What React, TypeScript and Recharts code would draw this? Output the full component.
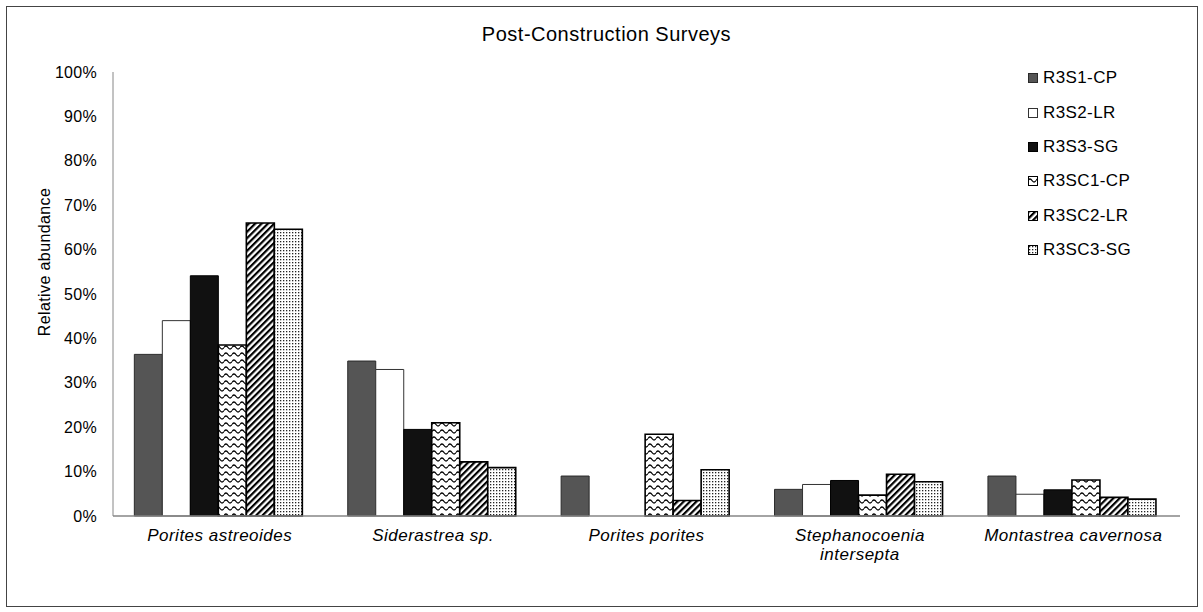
import { Bar, BarChart, XAxis, YAxis } from "recharts";

const categories = [
  "Porites astreoides",
  "Siderastrea sp.",
  "Porites porites",
  "Stephanocoenia intersepta",
  "Montastrea cavernosa",
];

const r3s1cp = [36.4, 34.9, 9.0, 6.0, 9.0];
const r3s2lr = [44.0, 33.0, 0, 7.1, 4.9];
const r3s3sg = [54.1, 19.5, 0, 8.0, 5.9];
const r3sc1cp = [38.5, 21.0, 18.4, 4.7, 8.1];
const r3sc2lr = [66.0, 12.2, 3.5, 9.4, 4.2];
const r3sc3sg = [64.6, 10.9, 10.4, 7.7, 3.8];

const yTicks = [0, 10, 20, 30, 40, 50, 60, 70, 80, 90, 100];

const SERIES = [
  { key: "R3S1-CP", fill: "#555555", stroke: "#2a2a2a", sw: 1 },
  { key: "R3S2-LR", fill: "#ffffff", stroke: "#333333", sw: 1 },
  { key: "R3S3-SG", fill: "#111111", stroke: "#000000", sw: 1 },
  { key: "R3SC1-CP", fill: "url(#wave)", stroke: "#000000", sw: 1.6 },
  { key: "R3SC2-LR", fill: "url(#diag)", stroke: "#000000", sw: 1.6 },
  { key: "R3SC3-SG", fill: "url(#dots)", stroke: "#000000", sw: 1.6 },
];

const data = categories.map((name, i) => ({
  name,
  "R3S1-CP": r3s1cp[i],
  "R3S2-LR": r3s2lr[i],
  "R3S3-SG": r3s3sg[i],
  "R3SC1-CP": r3sc1cp[i],
  "R3SC2-LR": r3sc2lr[i],
  "R3SC3-SG": r3sc3sg[i],
}));

const FONT = "'Liberation Sans', Arial, sans-serif";

function CategoryTick(props: any) {
  const { x, y, payload } = props;
  const label: string = payload.value;
  let lines = [label];
  if (label.length > 22) {
    const cut = label.lastIndexOf(" ");
    lines = [label.slice(0, cut), label.slice(cut + 1)];
  }
  return (
    <text
      x={x}
      y={y}
      textAnchor="middle"
      fontFamily={FONT}
      fontSize={17}
      letterSpacing={0.5}
      fontStyle="italic"
      fill="#000"
    >
      {lines.map((l, i) => (
        <tspan key={i} x={x} dy={i === 0 ? "0.71em" : 19}>
          {l}
        </tspan>
      ))}
    </text>
  );
}

function LegendBox() {
  return (
    <div
      style={{
        position: "absolute",
        left: 1028,
        top: 61,
        fontFamily: FONT,
        fontSize: 17,
        letterSpacing: 0.4,
        color: "#000",
      }}
    >
      {SERIES.map((s) => (
        <div
          key={s.key}
          style={{ height: 34.4, display: "flex", alignItems: "center" }}
        >
          <svg width={11} height={10} style={{ marginRight: 4 }}>
            <rect
              x={0.5}
              y={0.5}
              width={9}
              height={9}
              fill={s.fill}
              stroke={s.stroke}
              strokeWidth={1}
            />
          </svg>
          <span>{s.key}</span>
        </div>
      ))}
    </div>
  );
}

export default function App() {
  return (
    <div
      style={{
        position: "absolute",
        left: 0,
        top: 0,
        width: 1203,
        height: 612,
        background: "#fff",
      }}
    >
      <div
        style={{
          position: "absolute",
          left: 6,
          top: 6,
          width: 1190,
          height: 599,
          border: "1px solid #444",
        }}
      />
      <div
        style={{
          position: "absolute",
          top: 24,
          left: 0,
          width: 1213,
          textAlign: "center",
          fontFamily: FONT,
          fontSize: 20,
          lineHeight: "20px",
          letterSpacing: 0.5,
          color: "#000",
        }}
      >
        Post-Construction Surveys
      </div>
      <div
        style={{
          position: "absolute",
          left: 45,
          top: 262,
          transform: "translate(-50%, -50%) rotate(-90deg)",
          fontFamily: FONT,
          fontSize: 16,
          letterSpacing: 0.4,
          whiteSpace: "nowrap",
          color: "#000",
        }}
      >
        Relative abundance
      </div>
      <BarChart
        width={1203}
        height={612}
        data={data}
        margin={{ top: 72, right: 23, left: 53, bottom: 66 }}
        barCategoryGap="10%"
        barGap={0}
        style={{ position: "absolute", left: 0, top: 0 }}
      >
        <defs>
          <pattern id="wave" width={8} height={7} patternUnits="userSpaceOnUse">
            <rect width={8} height={7} fill="#fff" />
            <path
              d="M0 4.5 Q2 1.5 4 4.5 T8 4.5"
              fill="none"
              stroke="#000"
              strokeWidth={1.3}
            />
          </pattern>
          <pattern
            id="diag"
            width={4.5}
            height={4.5}
            patternUnits="userSpaceOnUse"
            patternTransform="rotate(45)"
          >
            <rect width={4.5} height={4.5} fill="#fff" />
            <rect width={2.2} height={4.5} fill="#000" />
          </pattern>
          <pattern id="dots" width={3} height={3} patternUnits="userSpaceOnUse">
            <rect width={3} height={3} fill="#fff" />
            <rect x={1} y={1} width={1.3} height={1.3} fill="#222" />
          </pattern>
        </defs>
        <XAxis
          dataKey="name"
          height={30}
          tickLine={false}
          tickSize={0}
          tickMargin={13}
          axisLine={{ stroke: "#868686", strokeWidth: 1.5 }}
          tick={<CategoryTick />}
          interval={0}
        />
        <YAxis
          width={60}
          domain={[0, 100]}
          ticks={yTicks}
          tickFormatter={(v) => `${v}%`}
          tickLine={false}
          tickSize={0}
          tickMargin={16}
          axisLine={{ stroke: "#868686", strokeWidth: 1 }}
          tick={{ fontFamily: FONT, fontSize: 16, letterSpacing: 0.3, fill: "#000" }}
        />
        {SERIES.map((s) => (
          <Bar
            key={s.key}
            dataKey={s.key}
            fill={s.fill}
            stroke={s.stroke}
            strokeWidth={s.sw}
            isAnimationActive={false}
          />
        ))}
      </BarChart>
      <LegendBox />
    </div>
  );
}
